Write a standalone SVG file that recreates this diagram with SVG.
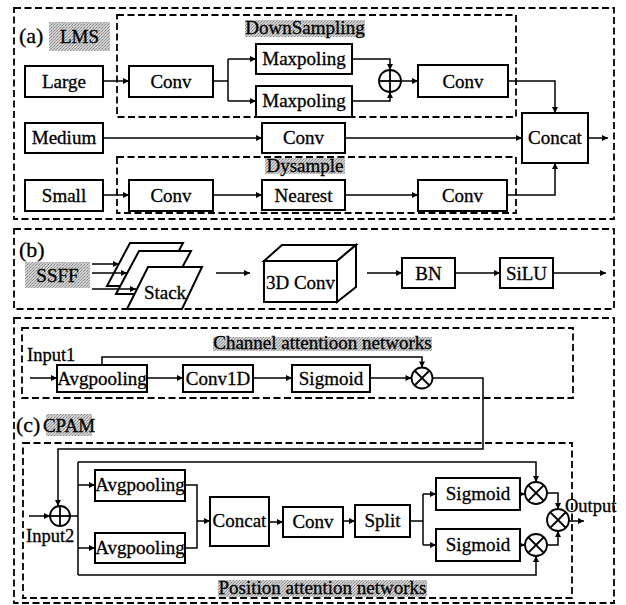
<svg xmlns="http://www.w3.org/2000/svg" width="626" height="605" viewBox="0 0 626 605" font-family="'Liberation Serif', 'Times New Roman', serif">
  <style>
    .frame { fill: none; stroke: #000; stroke-width: 1.8; stroke-dasharray: 7 3.5; }
    .box { fill: #fff; stroke: #000; stroke-width: 2; }
    .lbl, .tag, .txt { font-family: 'Liberation Serif', 'Times New Roman', serif; fill: #000; stroke: #000; stroke-width: 0.3; }
    .lbl { font-size: 19px; text-anchor: middle; }
    .tag { font-size: 22px; }
    .txt { font-size: 18.5px; }
    .hl { fill: url(#grain); }
    .wire { fill: none; stroke: #000; stroke-width: 1.5; }
    .arr { fill: none; stroke: #000; stroke-width: 1.5; marker-end: url(#head); }
    .op { fill: #fff; stroke: #000; stroke-width: 1.8; }
  </style>
  <defs>
    <pattern id="grain" width="3" height="3" patternUnits="userSpaceOnUse">
      <rect width="3" height="3" fill="#d0d0d0"/>
      <rect x="0" y="0" width="1" height="1" fill="#858585"/>
      <rect x="2" y="1" width="1" height="1" fill="#959595"/>
      <rect x="1" y="2" width="1" height="1" fill="#a5a5a5"/>
    </pattern>
    <marker id="head" viewBox="0 0 10 10" refX="10" refY="5" markerWidth="7" markerHeight="6" markerUnits="userSpaceOnUse" orient="auto">
      <path d="M0 0 L10 5 L0 10 Z" fill="#000"/>
    </marker>
    <g id="plus">
      <line x1="-10" y1="0" x2="10" y2="0" stroke="#000" stroke-width="1.8"/>
      <line x1="0" y1="-10" x2="0" y2="10" stroke="#000" stroke-width="1.8"/>
    </g>
    <g id="times">
      <line x1="-7.5" y1="-7.5" x2="7.5" y2="7.5" stroke="#000" stroke-width="1.8"/>
      <line x1="-7.5" y1="7.5" x2="7.5" y2="-7.5" stroke="#000" stroke-width="1.8"/>
    </g>
  </defs>

  <rect width="626" height="605" fill="#fff"/>

  <!-- ===== (a) LMS ===== -->
  <g id="panel-a">
    <rect class="frame" x="14" y="8" width="600" height="211"/>
    <rect class="frame" x="117" y="15" width="399" height="102"/>
    <rect class="frame" x="117" y="157" width="399" height="56"/>
    <text class="tag" x="19" y="43">(a)</text>
    <rect class="hl" x="49" y="22" width="61" height="29"/>
    <text class="lbl" x="79.5" y="43">LMS</text>
    <rect class="hl" x="245" y="20" width="120" height="17"/>
    <text class="lbl" x="305" y="34">DownSampling</text>
    <rect class="hl" x="265" y="158" width="80" height="16"/>
    <text class="lbl" x="305" y="172">Dysample</text>
  </g>
  <g id="a-large"><rect class="box" x="25" y="66" width="78" height="31"/><text class="lbl" x="64" y="88">Large</text></g>
  <g id="a-conv1"><rect class="box" x="129" y="66" width="84" height="31"/><text class="lbl" x="171" y="88">Conv</text></g>
  <g id="a-maxpool1"><rect class="box" x="256" y="44" width="96" height="30"/><text class="lbl" x="304" y="65">Maxpoling</text></g>
  <g id="a-maxpool2"><rect class="box" x="256" y="86" width="96" height="31"/><text class="lbl" x="304" y="107">Maxpoling</text></g>
  <g id="a-add"><circle class="op" cx="390" cy="81" r="11"/><use href="#plus" transform="translate(390 81)"/></g>
  <g id="a-conv2"><rect class="box" x="418" y="65" width="90" height="32"/><text class="lbl" x="463" y="88">Conv</text></g>
  <g id="a-medium"><rect class="box" x="25" y="123" width="78" height="30"/><text class="lbl" x="64" y="144">Medium</text></g>
  <g id="a-conv-mid"><rect class="box" x="262" y="123" width="83" height="30"/><text class="lbl" x="303.5" y="144">Conv</text></g>
  <g id="a-concat"><rect class="box" x="522" y="113" width="66" height="50"/><text class="lbl" x="555" y="144">Concat</text></g>
  <g id="a-small"><rect class="box" x="25" y="180" width="78" height="31"/><text class="lbl" x="64" y="202">Small</text></g>
  <g id="a-conv3"><rect class="box" x="129" y="180" width="84" height="31"/><text class="lbl" x="171" y="202">Conv</text></g>
  <g id="a-nearest"><rect class="box" x="262" y="180" width="83" height="30"/><text class="lbl" x="303.5" y="202">Nearest</text></g>
  <g id="a-conv4"><rect class="box" x="418" y="180" width="89" height="31"/><text class="lbl" x="462.5" y="202">Conv</text></g>

  <!-- ===== (b) SSFF ===== -->
  <g id="panel-b">
    <rect class="frame" x="14" y="229" width="600" height="80"/>
    <text class="tag" x="19" y="257">(b)</text>
    <rect class="hl" x="25" y="262" width="65" height="26"/>
    <text class="lbl" x="57.5" y="282">SSFF</text>
  </g>
  <g id="b-stack">
    <polygon class="box" stroke-width="1.6" points="130,243 183,243 160,286 107,286"/>
    <polygon class="box" stroke-width="1.6" points="139,251 191,251 168,294 116,294"/>
    <polygon class="box" stroke-width="1.6" points="148,267 202,267 182,309 127,309"/>
    <text class="lbl" x="165" y="299">Stack</text>
  </g>
  <g id="b-conv3d">
    <polygon class="box" stroke-width="1.6" points="264,261 282,245 356,245 337,261"/>
    <polygon class="box" stroke-width="1.6" points="337,261 356,245 356,287 337,302"/>
    <rect class="box" stroke-width="1.6" x="264" y="261" width="73" height="41"/>
    <text class="lbl" x="300.5" y="289">3D Conv</text>
  </g>
  <g id="b-bn"><rect class="box" x="402" y="258" width="53" height="30"/><text class="lbl" x="428.5" y="280">BN</text></g>
  <g id="b-silu"><rect class="box" x="500" y="258" width="53" height="30"/><text class="lbl" x="526.5" y="280">SiLU</text></g>

  <!-- ===== (c) CPAM ===== -->
  <g id="panel-c">
    <rect class="frame" x="14" y="318" width="600" height="285"/>
    <rect class="frame" x="22" y="328" width="551" height="70"/>
    <rect class="frame" x="23" y="443" width="549" height="155"/>
    <rect class="hl" x="213" y="337" width="219" height="14"/>
    <text class="lbl" x="322.5" y="349">Channel attentioon networks</text>
    <text class="txt" x="27" y="361">Input1</text>
    <text class="tag" x="16" y="432" font-size="21">(c)</text>
    <rect class="hl" x="46" y="414" width="46" height="22"/>
    <text class="lbl" x="69" y="432">CPAM</text>
    <rect class="hl" x="218" y="580" width="209" height="17"/>
    <text class="lbl" x="322.5" y="594">Position attention networks</text>
    <text class="txt" x="26" y="542">Input2</text>
    <text class="txt" x="565" y="512" font-size="16.5">Output</text>
  </g>
  <g id="c-avgpool"><rect class="box" x="57" y="365" width="90" height="27"/><text class="lbl" x="102" y="385">Avgpooling</text></g>
  <g id="c-conv1d"><rect class="box" x="183" y="365" width="70" height="27"/><text class="lbl" x="218" y="385">Conv1D</text></g>
  <g id="c-sigmoid0"><rect class="box" x="292" y="365" width="78" height="27"/><text class="lbl" x="331" y="385">Sigmoid</text></g>
  <g id="c-mul0"><circle class="op" cx="422" cy="378" r="10.5"/><use href="#times" transform="translate(422 378)"/></g>
  <g id="c-add"><circle class="op" cx="60" cy="516" r="10"/><use href="#plus" transform="translate(60 516)"/></g>
  <g id="c-avgpool-h"><rect class="box" x="95" y="470" width="90" height="31"/><text class="lbl" x="140" y="491">Avgpooling</text></g>
  <g id="c-avgpool-w"><rect class="box" x="95" y="533" width="90" height="30"/><text class="lbl" x="140" y="554">Avgpooling</text></g>
  <g id="c-concat"><rect class="box" x="210" y="497" width="59" height="49"/><text class="lbl" x="239.5" y="527">Concat</text></g>
  <g id="c-conv"><rect class="box" x="283" y="507" width="60" height="30"/><text class="lbl" x="313" y="528">Conv</text></g>
  <g id="c-split"><rect class="box" x="355" y="505" width="55" height="32"/><text class="lbl" x="382.5" y="527">Split</text></g>
  <g id="c-sigmoid-h"><rect class="box" x="436" y="478" width="84" height="32"/><text class="lbl" x="478" y="500">Sigmoid</text></g>
  <g id="c-sigmoid-w"><rect class="box" x="436" y="529" width="84" height="32"/><text class="lbl" x="478" y="551">Sigmoid</text></g>
  <g id="c-mul-h"><circle class="op" cx="536" cy="493" r="11"/><use href="#times" transform="translate(536 493)"/></g>
  <g id="c-mul-w"><circle class="op" cx="536" cy="545" r="11"/><use href="#times" transform="translate(536 545)"/></g>
  <g id="c-mul-out"><circle class="op" cx="558" cy="520" r="11"/><use href="#times" transform="translate(558 520)"/></g>

  <!-- ===== connectors ===== -->
  <g id="connectors">
    <!-- (a) -->
    <path class="arr" d="M103 81 H129"/>
    <path class="wire" d="M213 81 H228 M228 59 V101"/>
    <path class="arr" d="M228 59 H256"/>
    <path class="arr" d="M228 101 H256"/>
    <path class="arr" d="M352 59 H390 V70"/>
    <path class="arr" d="M352 101 H390 V92"/>
    <path class="arr" d="M401 81 H418"/>
    <path class="arr" d="M508 81 H555 V113"/>
    <path class="arr" d="M103 138 H262"/>
    <path class="arr" d="M345 138 H522"/>
    <path class="arr" d="M588 138 H608"/>
    <path class="arr" d="M103 195 H129"/>
    <path class="arr" d="M213 195 H262"/>
    <path class="arr" d="M345 195 H418"/>
    <path class="arr" d="M507 195 H555 V163"/>
    <!-- (b) -->
    <path class="arr" d="M92 264 H119"/>
    <path class="arr" d="M92 273 H127"/>
    <path class="arr" d="M92 289 H136"/>
    <path class="arr" d="M216 273 H250"/>
    <path class="arr" d="M367 273 H402"/>
    <path class="arr" d="M455 273 H500"/>
    <path class="arr" d="M553 273 H606"/>
    <!-- (c) channel attention -->
    <path class="arr" d="M30 378 H57"/>
    <path class="arr" d="M147 378 H183"/>
    <path class="arr" d="M253 378 H292"/>
    <path class="arr" d="M370 378 H411.5"/>
    <path class="arr" d="M102 365 V357 H422 V367.5"/>
    <path class="arr" d="M432.5 378 H483 V449 H58 V506"/>
    <!-- (c) position attention -->
    <path class="arr" d="M29 516 H50"/>
    <path class="wire" d="M70 516 H78 M78 462 V575"/>
    <path class="arr" d="M78 462 H536 V482"/>
    <path class="arr" d="M78 575 H536 V556"/>
    <path class="arr" d="M78 485 H95"/>
    <path class="arr" d="M78 548 H95"/>
    <path class="wire" d="M185 485 H197 V548 H185"/>
    <path class="arr" d="M197 521 H210"/>
    <path class="arr" d="M269 522 H283"/>
    <path class="arr" d="M343 521 H355"/>
    <path class="wire" d="M410 521 H423 M423 494 V545"/>
    <path class="arr" d="M423 494 H436"/>
    <path class="arr" d="M423 545 H436"/>
    <path class="arr" d="M520 494 H525"/>
    <path class="arr" d="M520 545 H525"/>
    <path class="arr" d="M547 493 H558 V509"/>
    <path class="arr" d="M547 545 H558 V531"/>
    <path class="arr" d="M569 521 H584"/>
  </g>
</svg>
